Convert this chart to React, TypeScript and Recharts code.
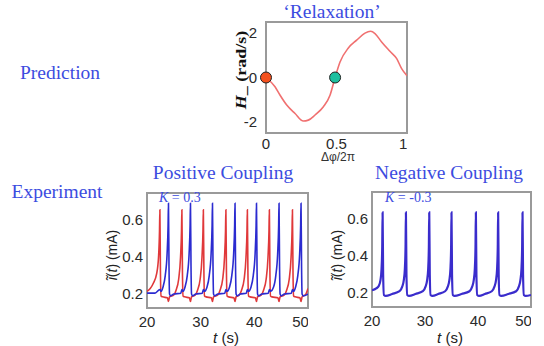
import React from 'react';
import { LineChart, Line, XAxis, YAxis, ReferenceDot } from 'recharts';

// H_ curve of the 'Relaxation' prediction: [Δφ/2π, rad/s]
const hCurve: [number, number][] = [
  [0, 0], [0.064, -0.42], [0.1, -0.8], [0.147, -1.24], [0.206, -1.62], [0.265, -1.96],
  [0.3, -1.92], [0.348, -1.69], [0.407, -1.32], [0.454, -0.8], [0.49, 0], [0.525, 0.7],
  [0.584, 1.33], [0.643, 1.68], [0.702, 2.0], [0.742, 2.08], [0.773, 1.98], [0.82, 1.6],
  [0.879, 1.18], [0.927, 0.85], [0.962, 0.4], [1.0, 0.08],
];

// fixed points on the curve
const phaseDots = [
  { x: 0, y: 0, color: '#f4511e' },
  { x: 0.49, y: 0, color: '#1fbf9f' },
];

// positive coupling, K = 0.3: [t (s), i (mA)]
const posRed: [number, number][] = [
  [20.0, 0.215], [20.6, 0.23], [21.2, 0.26], [21.8, 0.31], [22.15, 0.4], [22.33, 0.54], [22.4, 0.655],
  [22.5, 0.33], [22.62, 0.19], [22.9, 0.185], [23.8, 0.18], [24.0, 0.16], [24.2, 0.185], [25.0, 0.195],
  [25.4, 0.22], [25.9, 0.28], [26.25, 0.4], [26.43, 0.54], [26.5, 0.655], [26.6, 0.33], [26.72, 0.19],
  [27.0, 0.185], [27.9, 0.18], [28.1, 0.16], [28.3, 0.185], [29.0, 0.195], [29.4, 0.22], [29.9, 0.28],
  [30.25, 0.4], [30.43, 0.54], [30.5, 0.655], [30.6, 0.33], [30.72, 0.19], [31.0, 0.185], [32.0, 0.18],
  [32.2, 0.16], [32.4, 0.185], [33.2, 0.195], [33.6, 0.22], [34.1, 0.28], [34.45, 0.4], [34.63, 0.54],
  [34.7, 0.655], [34.8, 0.33], [34.92, 0.19], [35.2, 0.185], [36.2, 0.18], [36.4, 0.16], [36.6, 0.185],
  [37.2, 0.195], [37.6, 0.22], [38.1, 0.28], [38.45, 0.4], [38.63, 0.54], [38.7, 0.655], [38.8, 0.33],
  [38.92, 0.19], [39.2, 0.185], [40.2, 0.18], [40.4, 0.16], [40.6, 0.185], [41.3, 0.195], [41.7, 0.22],
  [42.2, 0.28], [42.55, 0.4], [42.73, 0.54], [42.8, 0.655], [42.9, 0.33], [43.02, 0.19], [43.3, 0.185],
  [44.4, 0.18], [44.6, 0.16], [44.8, 0.185], [45.6, 0.195], [46.0, 0.22], [46.5, 0.28], [46.85, 0.4],
  [47.03, 0.54], [47.1, 0.655], [47.2, 0.33], [47.32, 0.19], [47.6, 0.185], [48.5, 0.18], [48.7, 0.16],
  [48.9, 0.185], [49.6, 0.2], [50.0, 0.23],
];

const posBlue: [number, number][] = [
  [20.0, 0.205], [21.5, 0.205], [22.4, 0.225], [22.6, 0.215], [23.0, 0.24], [23.4, 0.3], [23.75, 0.42],
  [23.93, 0.57], [24.0, 0.69], [24.1, 0.35], [24.2, 0.2], [24.4, 0.19], [25.0, 0.2], [26.3, 0.205],
  [26.5, 0.225], [26.7, 0.215], [27.1, 0.24], [27.5, 0.3], [27.85, 0.42], [28.03, 0.57], [28.1, 0.69],
  [28.2, 0.35], [28.3, 0.2], [28.5, 0.19], [29.1, 0.2], [30.3, 0.205], [30.5, 0.225], [30.7, 0.215],
  [31.2, 0.24], [31.6, 0.3], [31.95, 0.42], [32.13, 0.57], [32.2, 0.69], [32.3, 0.35], [32.4, 0.2],
  [32.6, 0.19], [33.2, 0.2], [34.5, 0.205], [34.7, 0.225], [34.9, 0.215], [35.4, 0.24], [35.8, 0.3],
  [36.15, 0.42], [36.33, 0.57], [36.4, 0.69], [36.5, 0.35], [36.6, 0.2], [36.8, 0.19], [37.4, 0.2],
  [38.5, 0.205], [38.7, 0.225], [38.9, 0.215], [39.4, 0.24], [39.8, 0.3], [40.15, 0.42], [40.33, 0.57],
  [40.4, 0.69], [40.5, 0.35], [40.6, 0.2], [40.8, 0.19], [41.4, 0.2], [42.6, 0.205], [42.8, 0.225],
  [43.0, 0.215], [43.6, 0.24], [44.0, 0.3], [44.35, 0.42], [44.53, 0.57], [44.6, 0.69], [44.7, 0.35],
  [44.8, 0.2], [45.0, 0.19], [45.6, 0.2], [46.9, 0.205], [47.1, 0.225], [47.3, 0.215], [47.7, 0.24],
  [48.1, 0.3], [48.45, 0.42], [48.63, 0.57], [48.7, 0.69], [48.8, 0.35], [48.9, 0.2], [49.1, 0.19],
  [50.0, 0.2],
];

// negative coupling, K = -0.3
const negBlue: [number, number][] = [
  [20.0, 0.215], [20.8, 0.225], [21.3, 0.24], [21.6, 0.27], [21.8, 0.33], [21.93, 0.45], [22.0, 0.635],
  [22.1, 0.3], [22.25, 0.19], [22.6, 0.185], [23.8, 0.195], [25.2, 0.21], [25.7, 0.235], [26.0, 0.27],
  [26.2, 0.33], [26.33, 0.45], [26.4, 0.635], [26.5, 0.3], [26.65, 0.19], [27.0, 0.185], [28.2, 0.195],
  [29.6, 0.21], [30.1, 0.235], [30.4, 0.27], [30.6, 0.33], [30.73, 0.45], [30.8, 0.635], [30.9, 0.3],
  [31.05, 0.19], [31.4, 0.185], [32.5, 0.195], [33.8, 0.21], [34.3, 0.235], [34.6, 0.27], [34.8, 0.33],
  [34.93, 0.45], [35.0, 0.635], [35.1, 0.3], [35.25, 0.19], [35.6, 0.185], [36.9, 0.195], [38.4, 0.21],
  [38.9, 0.235], [39.2, 0.27], [39.4, 0.33], [39.53, 0.45], [39.6, 0.635], [39.7, 0.3], [39.85, 0.19],
  [40.2, 0.185], [41.3, 0.195], [42.6, 0.21], [43.1, 0.235], [43.4, 0.27], [43.6, 0.33], [43.73, 0.45],
  [43.8, 0.635], [43.9, 0.3], [44.05, 0.19], [44.4, 0.185], [45.7, 0.195], [47.2, 0.21], [47.7, 0.235],
  [48.0, 0.27], [48.2, 0.33], [48.33, 0.45], [48.4, 0.635], [48.5, 0.3], [48.65, 0.19], [49.0, 0.185],
  [50.0, 0.19],
];

const phaseTicks = [0, 0.5, 1];
const hTicks = [-2, 0, 2];
const timeTicks = [20, 30, 40, 50];
const currentTicks = [0.2, 0.4, 0.6];

const toRows = (pts: [number, number][]) => pts.map(([x, y]) => ({ x, y }));

const BLUE_TEXT = '#3c4ce0';
const BOX = '#9a9a9a';
const tickStyle = { fontSize: 15, fill: '#2a2a2a', fontFamily: 'Liberation Sans, Arial, sans-serif' };
const serif = 'Liberation Serif, Times New Roman, serif';
const sans = 'Liberation Sans, Arial, sans-serif';

const abs = (extra: React.CSSProperties): React.CSSProperties => ({
  position: 'absolute',
  whiteSpace: 'nowrap',
  lineHeight: 1,
  ...extra,
});

const centered = (x: number, y: number, extra: React.CSSProperties = {}) =>
  abs({ left: x, top: y, transform: 'translate(-50%, -50%)', ...extra });

// matlab-style grey box under the plot area (axis widths/heights of the chart)
const Frame: React.FC<{ left: number; width: number; height: number }> = ({ left, width, height }) => (
  <div style={{
    position: 'absolute', left: left - 1, top: -1, width: width + 2, height: height + 2,
    boxSizing: 'border-box', border: `2px solid ${BOX}`,
  }} />
);

const TracePanel: React.FC<{
  left: number;
  top: number;
  width: number;
  series: { data: [number, number][]; color: string; width: number }[];
}> = ({ left, top, width, series }) => (
  <div style={{ position: 'absolute', left, top, width, height: 145 }}>
    <Frame left={30} width={width - 30} height={115} />
    <div style={{ position: 'absolute', left: 0, top: 0 }}>
      <LineChart width={width} height={145} margin={{ top: 0, right: 0, bottom: 0, left: 0 }}>
        <XAxis dataKey="x" type="number" domain={[20, 50]} ticks={timeTicks} height={30}
          tick={tickStyle} tickLine={false} tickSize={0} tickMargin={8}
          axisLine={false} allowDataOverflow />
        <YAxis type="number" domain={[0.125, 0.745]} ticks={currentTicks} width={30}
          tick={tickStyle} tickLine={false} tickSize={0} tickMargin={4}
          axisLine={false} allowDataOverflow />
        {series.map((s, i) => (
          <Line key={i} data={toRows(s.data)} dataKey="y" type="monotone" stroke={s.color}
            strokeWidth={s.width} dot={false} isAnimationActive={false} />
        ))}
      </LineChart>
    </div>
  </div>
);

export default function App() {
  return (
    <div style={{ position: 'absolute', left: 0, top: 0, width: 544, height: 346, background: '#fff', overflow: 'hidden' }}>
      {/* row captions */}
      <div style={centered(60, 73, { fontFamily: serif, fontSize: 19.5, color: BLUE_TEXT })}>Prediction</div>
      <div style={centered(57, 192, { fontFamily: serif, fontSize: 19.5, color: BLUE_TEXT })}>Experiment</div>

      {/* prediction */}
      <div style={centered(332, 12, { fontFamily: serif, fontSize: 19.5, color: BLUE_TEXT })}>‘Relaxation’</div>
      <div style={{ position: 'absolute', left: 226, top: 22, width: 181, height: 141 }}>
        <Frame left={40} width={141} height={111} />
        <div style={{ position: 'absolute', left: 0, top: 0 }}>
          <LineChart width={181} height={141} margin={{ top: 0, right: 0, bottom: 0, left: 0 }}>
            <XAxis dataKey="x" type="number" domain={[0, 1]} ticks={phaseTicks} height={30}
              tick={tickStyle} tickLine={false} tickSize={0} tickMargin={5} axisLine={false} />
            <YAxis type="number" domain={[-2.5, 2.5]} ticks={hTicks} width={40}
              tick={tickStyle} tickLine={false} tickSize={0} tickMargin={9} axisLine={false} />
            <Line data={toRows(hCurve)} dataKey="y" type="monotone" stroke="#f07070"
              strokeWidth={1.6} dot={false} isAnimationActive={false} />
            {phaseDots.map((d, i) => (
              <ReferenceDot key={i} x={d.x} y={d.y} r={5.5} fill={d.color} stroke="#222"
                strokeWidth={1} ifOverflow="visible" />
            ))}
          </LineChart>
        </div>
      </div>
      <div style={centered(241, 70, { transform: 'translate(-50%, -50%) rotate(-90deg) scale(1, 0.8)', fontFamily: serif, fontSize: 18, fontWeight: 'bold', color: '#111' })}>
        <i>H</i>_ (rad/s)
      </div>
      <div style={centered(338, 157, { fontFamily: sans, fontSize: 12, color: '#333' })}>Δφ/2π</div>

      {/* experiment */}
      <div style={centered(223, 173, { fontFamily: serif, fontSize: 19.5, color: BLUE_TEXT })}>Positive Coupling</div>
      <div style={centered(449, 173, { fontFamily: serif, fontSize: 19.5, color: BLUE_TEXT })}>Negative Coupling</div>

      <TracePanel left={117} top={193} width={191}
        series={[
          { data: posRed, color: '#e0383a', width: 1.6 },
          { data: posBlue, color: '#2b2bd0', width: 1.6 },
        ]} />
      <TracePanel left={342} top={192} width={189}
        series={[{ data: negBlue, color: '#3a2ccc', width: 2.2 }]} />

      <div style={abs({ left: 159, top: 191, fontFamily: serif, fontSize: 14, color: BLUE_TEXT })}><i>K</i> = 0.3</div>
      <div style={abs({ left: 385, top: 191, fontFamily: serif, fontSize: 14, color: BLUE_TEXT })}><i>K</i> = -0.3</div>

      <div style={centered(112, 255, { transform: 'translate(-50%, -50%) rotate(-90deg)', fontFamily: sans, fontSize: 14, color: '#222' })}>
        <i>ĩ</i>(<i>t</i>) (mA)
      </div>
      <div style={centered(337, 255, { transform: 'translate(-50%, -50%) rotate(-90deg)', fontFamily: sans, fontSize: 14, color: '#222' })}>
        <i>ĩ</i>(<i>t</i>) (mA)
      </div>
      <div style={centered(226, 337, { fontFamily: sans, fontSize: 15, color: '#222' })}><i>t</i> (s)</div>
      <div style={centered(450, 337, { fontFamily: sans, fontSize: 15, color: '#222' })}><i>t</i> (s)</div>
    </div>
  );
}
